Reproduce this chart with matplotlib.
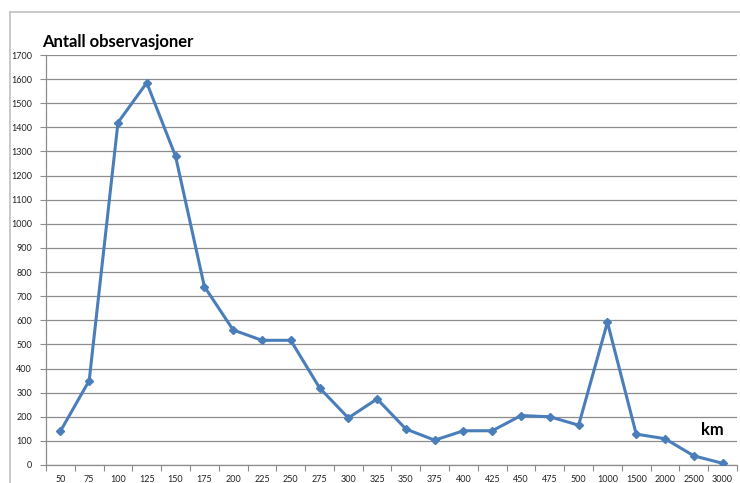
import numpy as np
import matplotlib
matplotlib.use('Agg')
import matplotlib.pyplot as plt
from matplotlib.lines import Line2D

# distance bins (km) and number of observations
km = ['50', '75', '100', '125', '150', '175', '200', '225', '250', '275', '300', '325',
      '350', '375', '400', '425', '450', '475', '500', '1000', '1500', '2000', '2500', '3000']
obs = [140, 350, 1420, 1585, 1280, 740, 560, 517, 517, 320, 195, 274,
       149, 103, 142, 142, 205, 200, 165, 592, 128, 109, 38, 7]
yticks = list(range(0, 1701, 100))

plt.rcParams['font.family'] = ['Lato', 'DejaVu Sans']
gray = '#8c8c8c'

fig = plt.figure(figsize=(7.4, 4.83), dpi=100)
ax = fig.add_axes([46/740, 1-465/483, 691/740, 410/483])

x = np.arange(len(km))
ax.plot(x, obs, color='#4a7ebb', lw=2.2, marker='D', ms=4.5, zorder=3)

ax.set_xlim(-0.5, len(km)-0.5)
ax.set_ylim(0, 1700)
ax.set_yticks(yticks)
ax.set_yticklabels([str(v) for v in yticks], fontsize=6.5, color='#222222')
ax.set_xticks(x)
ax.set_xticklabels(km, fontsize=6.5, color='#222222')
ax.set_xticks(np.arange(-0.5, len(km)), minor=True)
ax.tick_params(axis='x', which='major', length=0, pad=7)
ax.tick_params(axis='x', which='minor', length=4, color=gray, width=0.8)
ax.tick_params(axis='y', length=4, color=gray, width=0.8, pad=6)

ax.grid(axis='y', color=gray, lw=0.9)
ax.set_axisbelow(True)
for s in ['top', 'right']:
    ax.spines[s].set_visible(False)
for s in ['left', 'bottom']:
    ax.spines[s].set_color(gray)
    ax.spines[s].set_linewidth(0.9)

fig.text(42/740, 1-42/483, 'Antall observasjoner', fontsize=12, fontweight='bold',
         va='center', ha='left')
ax.text(0.965, 0.085, 'km', transform=ax.transAxes, fontsize=12, fontweight='bold',
        va='center', ha='center')

# outer chart border
fig.add_artist(Line2D([10/740, 10/740], [0, 1-12/483], color='#c0c0c0', lw=1.2,
                      transform=fig.transFigure))
fig.add_artist(Line2D([10/740, 1], [1-12/483, 1-12/483], color='#c0c0c0', lw=1.2,
                      transform=fig.transFigure))

fig.savefig('out.png', dpi=100)
